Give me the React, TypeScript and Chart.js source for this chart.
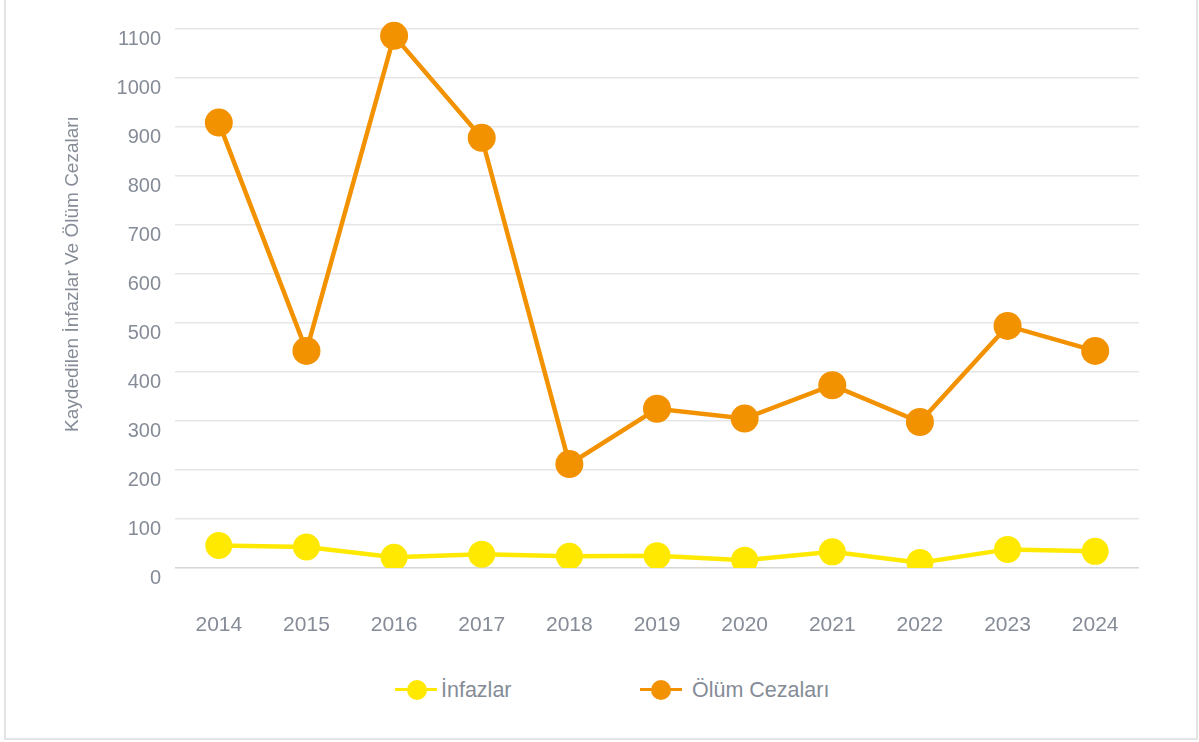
import React, { useEffect, useRef } from "react";
import { Chart, registerables } from "chart.js";

Chart.register(...registerables);

const years = ["2014", "2015", "2016", "2017", "2018", "2019", "2020", "2021", "2022", "2023", "2024"];
const infazlar = [46, 43, 22, 28, 24, 25, 16, 33, 11, 38, 34];
const olumCezalari = [909, 443, 1086, 878, 212, 325, 305, 373, 298, 494, 443];
const yMin = 0;
const yMax = 1200;
const yStep = 100;

const seriesNames = ["İnfazlar", "Ölüm Cezaları"];
const yTitle = "Kaydedilen İnfazlar Ve Ölüm Cezaları";

const YELLOW = "#FFE900";
const ORANGE = "#F39200";
const TEXT = "#858c97";
const FONT = "'Liberation Sans', Arial, sans-serif";

export default function App() {
  const ref = useRef<HTMLCanvasElement | null>(null);

  useEffect(() => {
    if (!ref.current) return;
    const chart = new Chart(ref.current, {
      type: "line",
      data: {
        labels: years,
        datasets: [
          {
            label: seriesNames[0],
            data: infazlar,
            borderColor: YELLOW,
            backgroundColor: YELLOW,
            pointBackgroundColor: YELLOW,
            pointBorderWidth: 0,
            pointRadius: 13.5,
            borderWidth: 4.5,
            tension: 0,
          },
          {
            label: seriesNames[1],
            data: olumCezalari,
            borderColor: ORANGE,
            backgroundColor: ORANGE,
            pointBackgroundColor: ORANGE,
            pointBorderWidth: 0,
            pointRadius: 14,
            borderWidth: 4.5,
            tension: 0,
          },
        ],
      },
      options: {
        animation: false,
        responsive: false,
        maintainAspectRatio: false,
        layout: { padding: { top: 20, right: 60, bottom: 0, left: 0 } },
        plugins: {
          legend: { display: false },
          tooltip: { enabled: false },
        },
        scales: {
          x: {
            offset: true,
            grid: { display: false, drawTicks: false },
            border: { display: false },
            ticks: {
              color: TEXT,
              font: { family: FONT, size: 21 },
              padding: 45,
              maxRotation: 0,
            },
            afterFit: (s: any) => {
              s.height = 80;
            },
          },
          y: {
            min: yMin,
            max: yMax,
            grid: {
              drawTicks: false,
              color: (c: any) => (c.tick && c.tick.value === 0 ? "#d6d6d6" : "#e6e6e6"),
              lineWidth: 1.5,
            },
            border: { display: false },
            ticks: {
              stepSize: yStep,
              color: TEXT,
              font: { family: FONT, size: 20 },
              padding: 14,
              labelOffset: 10,
              callback: (v: any) => String(v),
            },
            title: {
              display: true,
              text: yTitle,
              color: TEXT,
              font: { family: FONT, size: 19 },
              padding: { top: 61, bottom: 0 },
            },
            afterFit: (s: any) => {
              s.width = 175;
            },
          },
        },
      },
    });
    return () => chart.destroy();
  }, []);

  const legendText: React.CSSProperties = {
    position: "absolute",
    top: 677,
    fontFamily: FONT,
    fontSize: 21.5,
    color: TEXT,
    lineHeight: "26px",
    whiteSpace: "nowrap",
  };
  const line = (left: number, color: string): React.CSSProperties => ({
    position: "absolute",
    left,
    top: 688,
    width: 42,
    height: 3,
    background: color,
  });
  const dot = (cx: number, color: string): React.CSSProperties => ({
    position: "absolute",
    left: cx - 10,
    top: 679.5,
    width: 20,
    height: 20,
    borderRadius: "50%",
    background: color,
  });

  return (
    <div
      style={{
        position: "fixed",
        left: 0,
        top: 0,
        width: 1199,
        height: 742,
        overflow: "hidden",
        background: "#fff",
      }}
    >
      <div
        style={{
          position: "absolute",
          left: 4,
          top: -10,
          width: 1194,
          height: 750,
          boxSizing: "border-box",
          border: "2px solid #e4e4e4",
          borderTop: "none",
        }}
      />
      <canvas
        ref={ref}
        width={1199}
        height={694}
        style={{ position: "absolute", left: 0, top: -46, width: 1199, height: 694 }}
      />
      <div style={line(395, YELLOW)} />
      <div style={dot(417, YELLOW)} />
      <div style={{ ...legendText, left: 441 }}>{seriesNames[0]}</div>
      <div style={line(640, ORANGE)} />
      <div style={dot(661, ORANGE)} />
      <div style={{ ...legendText, left: 692 }}>{seriesNames[1]}</div>
    </div>
  );
}
